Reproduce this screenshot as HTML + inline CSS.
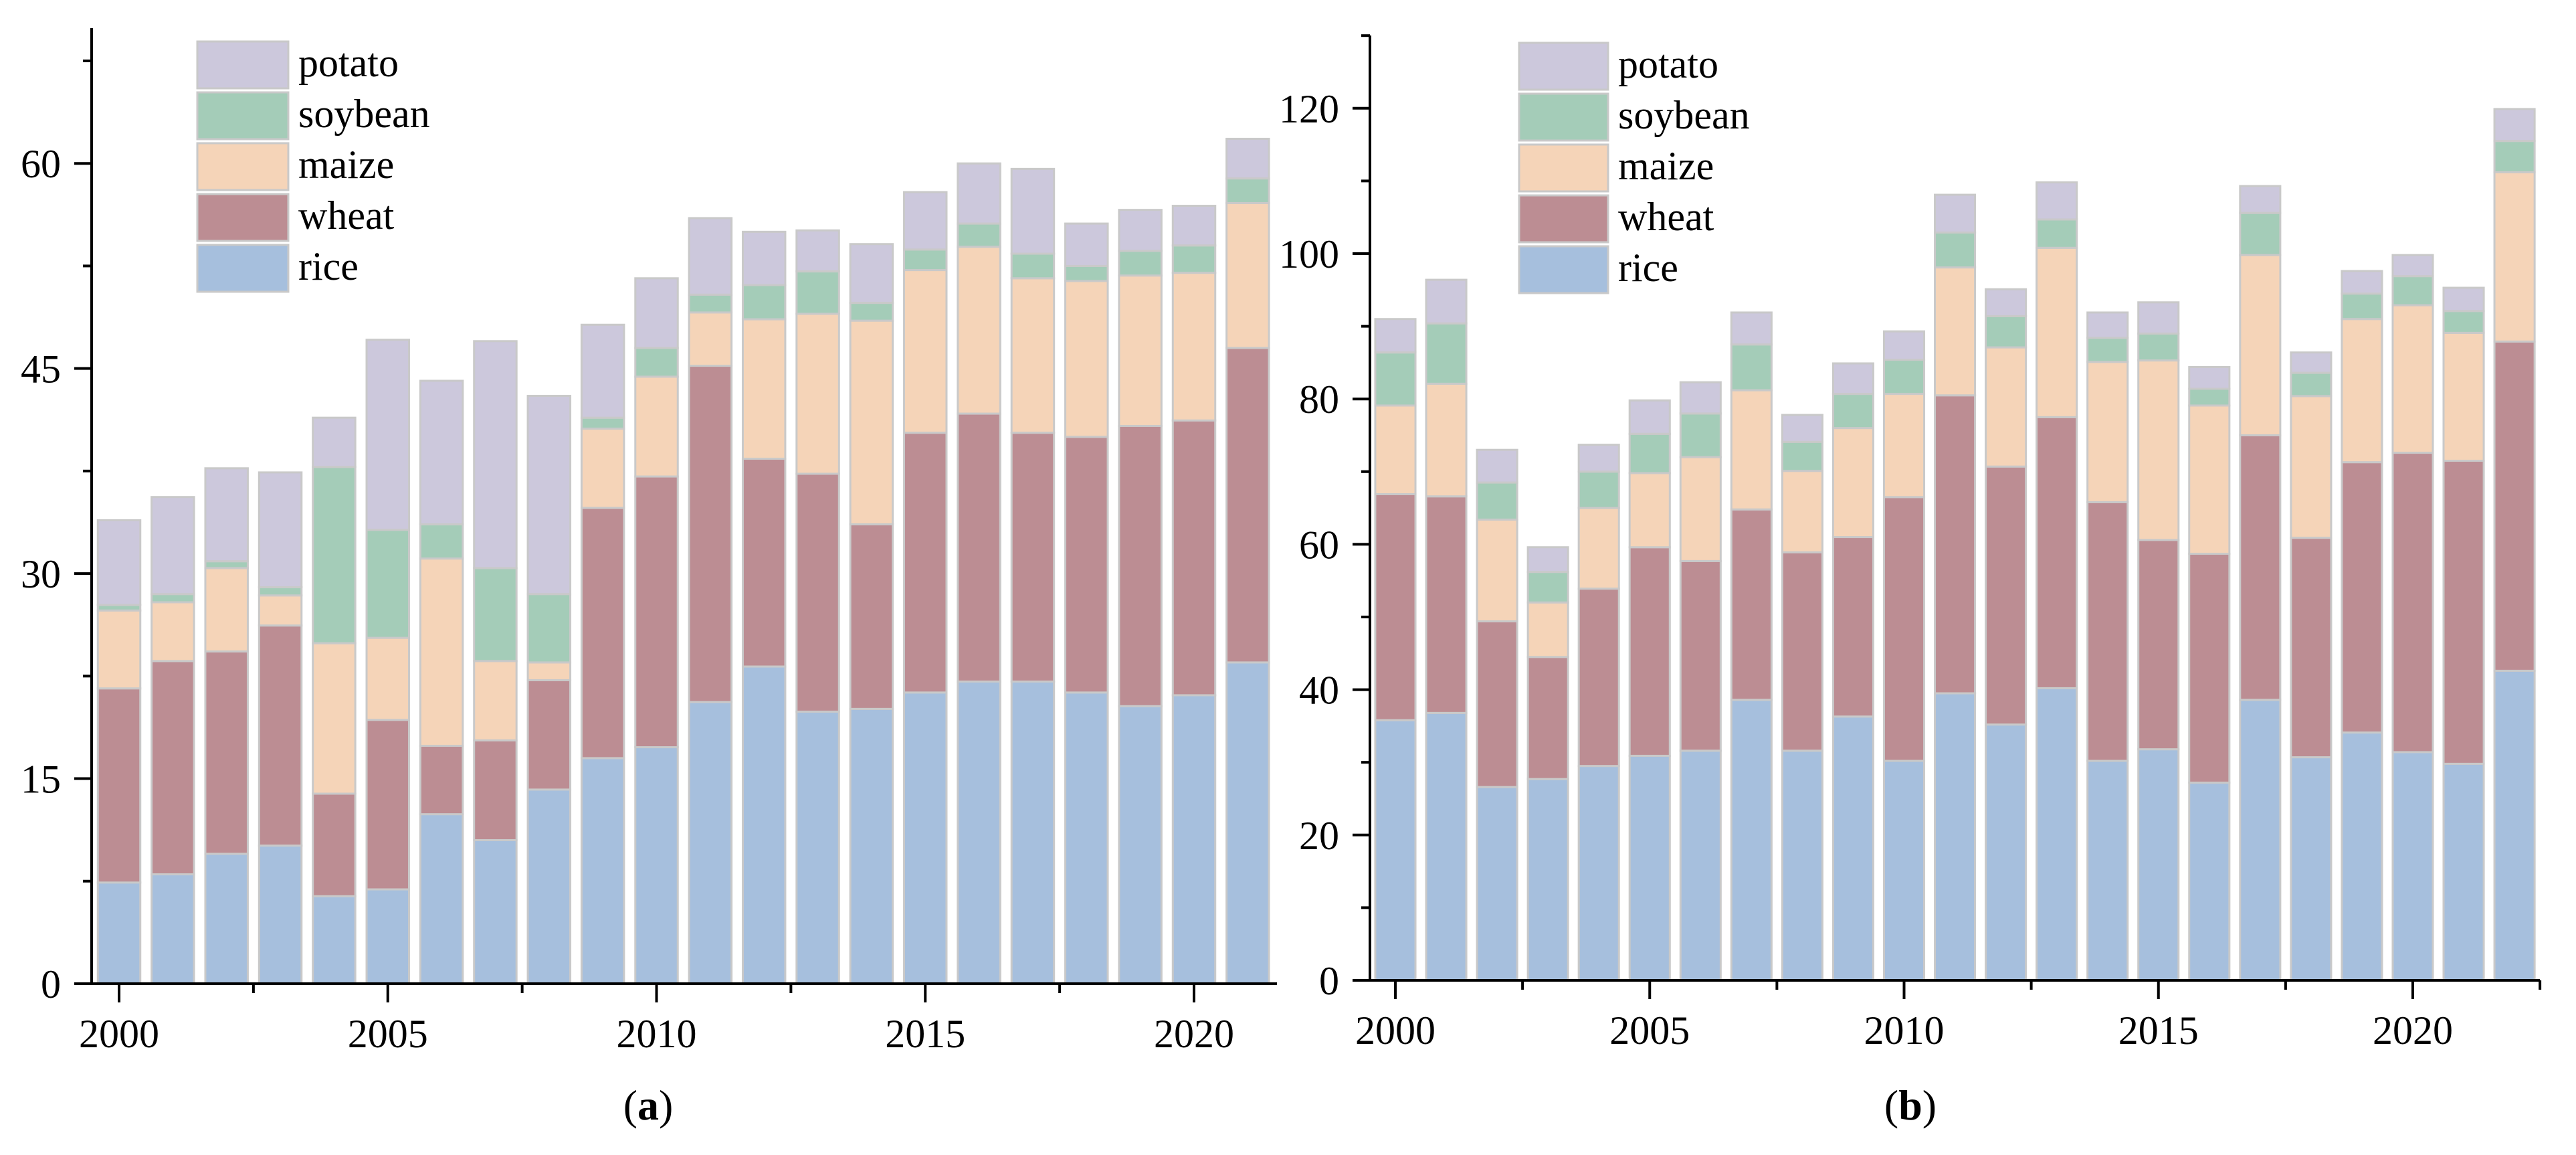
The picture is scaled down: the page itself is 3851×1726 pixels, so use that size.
<!DOCTYPE html>
<html><head><meta charset="utf-8"><style>
html,body{margin:0;padding:0;background:#fff;}
svg{display:block;font-family:"Liberation Serif",serif;}
</style></head><body>
<svg id="fig" width="3851" height="1726" viewBox="0 0 3851 1726"></svg>
<script>
const cropNames = ["rice","wheat","maize","soybean","potato"];
const cropColors = ["#a6bfdd","#bc8d93","#f5d4b8","#a4ccb8","#ccc8dc"];
const yearsA = [2000,2001,2002,2003,2004,2005,2006,2007,2008,2009,2010,2011,2012,2013,2014,2015,2016,2017,2018,2019,2020,2021];
const riceA = [7.4,8.0,9.5,10.1,6.4,6.9,12.4,10.5,14.2,16.5,17.3,20.6,23.2,19.9,20.1,21.3,22.1,22.1,21.3,20.3,21.1,23.5];
const wheatA = [14.2,15.6,14.8,16.1,7.5,12.4,5.0,7.3,8.0,18.3,19.8,24.6,15.2,17.4,13.5,19.0,19.6,18.2,18.7,20.5,20.1,23.0];
const maizeA = [5.7,4.3,6.1,2.2,11.0,6.0,13.7,5.8,1.3,5.8,7.3,3.9,10.2,11.7,14.9,11.9,12.2,11.3,11.4,11.0,10.8,10.6];
const soybeanA = [0.4,0.6,0.5,0.6,12.9,7.9,2.5,6.8,5.0,0.8,2.1,1.3,2.5,3.1,1.3,1.5,1.7,1.8,1.1,1.8,2.0,1.8];
const potatoA = [6.2,7.1,6.8,8.4,3.6,13.9,10.5,16.6,14.5,6.8,5.1,5.6,3.9,3.0,4.3,4.2,4.4,6.2,3.1,3.0,2.9,2.9];
const yTicksA = [0,15,30,45,60];
const xTicksA = [2000,2005,2010,2015,2020];

const yearsB = [2000,2001,2002,2003,2004,2005,2006,2007,2008,2009,2010,2011,2012,2013,2014,2015,2016,2017,2018,2019,2020,2021,2022];
const riceB = [35.8,36.8,26.6,27.7,29.5,30.9,31.6,38.6,31.6,36.3,30.2,39.5,35.2,40.2,30.2,31.8,27.2,38.6,30.7,34.1,31.4,29.8,42.6];
const wheatB = [31.1,29.8,22.8,16.8,24.4,28.7,26.1,26.2,27.3,24.7,36.3,41.0,35.5,37.3,35.6,28.8,31.5,36.4,30.2,37.2,41.2,41.7,45.3];
const maizeB = [12.2,15.5,14.0,7.5,11.1,10.2,14.3,16.4,11.2,15.0,14.2,17.6,16.4,23.3,19.3,24.7,20.4,24.8,19.5,19.7,20.3,17.6,23.3];
const soybeanB = [7.3,8.3,5.1,4.2,5.0,5.4,6.0,6.3,4.0,4.7,4.7,4.8,4.3,3.9,3.3,3.7,2.3,5.8,3.2,3.5,4.0,3.0,4.3];
const potatoB = [4.6,6.0,4.5,3.4,3.7,4.6,4.3,4.4,3.7,4.2,3.9,5.2,3.7,5.1,3.5,4.3,3.0,3.7,2.8,3.1,2.9,3.2,4.4];
const yTicksB = [0,20,40,60,80,100,120];
const xTicksB = [2000,2005,2010,2015,2020];

const NS = "http://www.w3.org/2000/svg";
const svg = document.getElementById("fig");
function mk(tag, attrs, parent){
  const e = document.createElementNS(NS, tag);
  for (const k in attrs) e.setAttribute(k, attrs[k]);
  (parent||svg).appendChild(e);
  return e;
}

function panel(cfg){
  const g = mk("g", {});
  
  
  const yScale = v => cfg.y0 - v * cfg.unit;
  const xScale = yr => cfg.x2000 + (yr - 2000) * cfg.step;
  const bw = cfg.step * 0.79;
  cfg.years.forEach((yr, i) => {
    let base = 0;
    cfg.series.forEach((s, k) => {
      const v = s[i];
      const r = mk("rect", {x: xScale(yr) - bw/2, y: yScale(base + v), width: bw, height: v * cfg.unit,
        fill: cropColors[k], stroke: "#c9c9c9", "stroke-width": 3}, g);
      
      
      base += v;
    });
  });
  const ax = mk("g", {stroke: "#000", "stroke-width": 4, fill: "none"}, g);
  
  
  mk("line", {x1: cfg.axX, y1: cfg.y0, x2: cfg.axX, y2: cfg.yTop}, ax);
  mk("line", {x1: cfg.axX - 26, y1: cfg.y0, x2: cfg.xEnd, y2: cfg.y0}, ax);
  for (let v = 0; yScale(v) >= cfg.yTop; v += cfg.minorY) {
    const major = cfg.yTicks.includes(v);
    mk("line", {x1: cfg.axX - (major ? 26 : 13), y1: yScale(v), x2: cfg.axX, y2: yScale(v)}, ax);
  }
  cfg.yTicks.forEach(v => {
    const t = mk("text", {x: cfg.axX - 46, y: yScale(v) + 21, "text-anchor": "end", "font-size": 60, fill: "#000"}, g);
    t.textContent = v;
    
    
  });
  for (let yr = 2000; xScale(yr) <= cfg.xEnd + 2; yr += 2.5) {
    const major = yr % 5 === 0;
    mk("line", {x1: xScale(yr), y1: cfg.y0, x2: xScale(yr), y2: cfg.y0 + (major ? 28 : 14)}, ax);
  }
  cfg.xTicks.forEach(yr => {
    const t = mk("text", {x: xScale(yr), y: cfg.y0 + 95, "text-anchor": "middle", "font-size": 60, fill: "#000"}, g);
    t.textContent = yr;
    
    
  });
  const lg = mk("g", {}, g);
  
  
  for (let k = 4; k >= 0; k--) {
    const row = 4 - k;
    const yy = cfg.legY + row * 76;
    const r = mk("rect", {x: cfg.legX, y: yy, width: cfg.legW, height: 70, fill: cropColors[k], stroke: "#c9c9c9", "stroke-width": 3}, lg);
    
    
    const t = mk("text", {x: cfg.legX + cfg.legW + 15, y: yy + 52, "font-size": 60, fill: "#000"}, lg);
    t.textContent = cropNames[k];
    
    
  }
  const cap = mk("text", {x: cfg.capX, y: 1673, "text-anchor": "middle", "font-size": 64, fill: "#000"}, g);
  cap.innerHTML = '(<tspan font-weight="bold">' + cfg.cap + '</tspan>)';
  
  
}

panel({name: "chart-a", years: yearsA, series: [riceA, wheatA, maizeA, soybeanA, potatoA],
  y0: 1470, unit: 20.43, yTop: 42, axX: 137, x2000: 178, step: 80.35, xEnd: 1909,
  minorY: 7.5, yTicks: yTicksA, xTicks: xTicksA, legX: 295, legW: 136, legY: 62, capX: 969, cap: "a"});
panel({name: "chart-b", years: yearsB, series: [riceB, wheatB, maizeB, soybeanB, potatoB],
  y0: 1465, unit: 10.86, yTop: 53, axX: 2048, x2000: 2086, step: 76.05, xEnd: 3797,
  minorY: 10, yTicks: yTicksB, xTicks: xTicksB, legX: 2271, legW: 133, legY: 64, capX: 2856, cap: "b"});
</script>
</body></html>
